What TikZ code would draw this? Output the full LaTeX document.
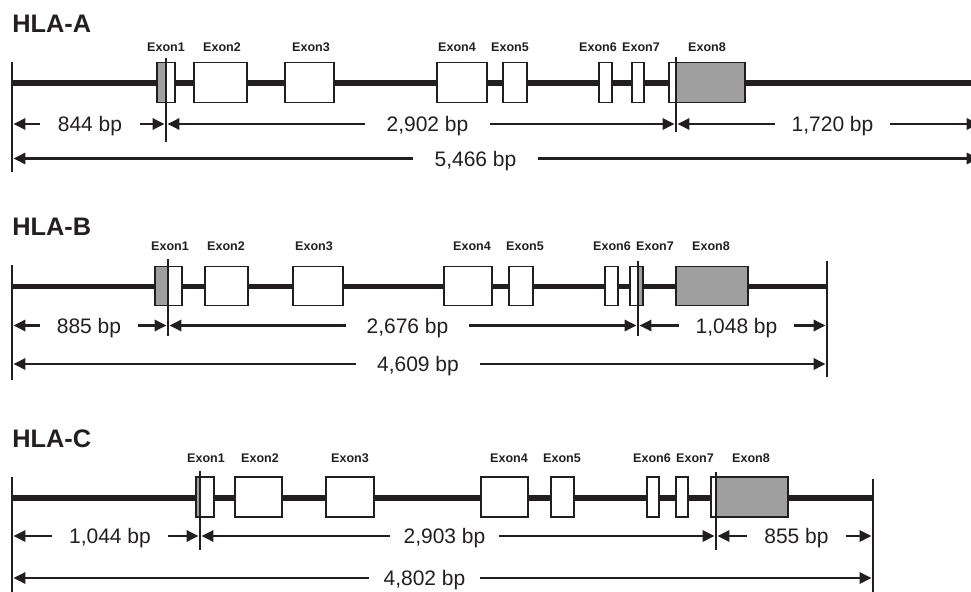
\documentclass[tikz,border=0pt]{standalone}
\usepackage{fontspec}
\setmainfont{Liberation Sans}
\usetikzlibrary{arrows.meta}
\definecolor{ink}{RGB}{35,31,32}
\definecolor{exgray}{RGB}{158,159,158}
\tikzset{
 gene/.style={draw=ink, line width=4.1pt},
 bar/.style={draw=ink, line width=2.2pt},
 exonbox/.style={draw=ink, line width=0.95pt},
 dim/.style={draw=ink, line width=1.7pt, -{Triangle[length=9pt,width=8.5pt]}, shorten >=1.1pt},
 numlab/.style={font=\fontsize{15.75}{18}\selectfont, text=ink, inner sep=0pt, text height=11.3pt, text depth=0pt, minimum width=#1*0.75pt},
 exlab/.style={font=\bfseries\fontsize{9.4}{10}\selectfont, text=ink, inner sep=0pt, anchor=base},
 title/.style={font=\bfseries\fontsize{19}{20}\selectfont, text=ink, inner sep=0pt, anchor=base west},
}
% white exon box: x1 x2 ytop ybot
\newcommand\wex[4]{\filldraw[exonbox,fill=white] (#1,#3) rectangle (#2,#4);}
% gray exon box
\newcommand\gex[4]{\filldraw[exonbox,fill=exgray] (#1,#3) rectangle (#2,#4);}
% split exon: x1 x2 g1 g2 ytop ybot
\newcommand\sex[6]{\fill[white] (#1,#5) rectangle (#2,#6); \fill[exgray] (#3,#5) rectangle (#4,#6); \draw[exonbox] (#1,#5) rectangle (#2,#6);}
\begin{document}
\begin{tikzpicture}[x=0.75pt,y=-0.75pt]
\useasboundingbox (0,0) rectangle (971,592);
\clip (0,0) rectangle (971,592);

% ================= HLA-A =================
\node[title] (tA) at (12,33) {HLA-A};
\coordinate (Ls) at (12,83); \coordinate (Le) at (980,83);
\draw[gene] (Ls) -- (Le);
\sex{157}{175}{157}{166}{62.5}{102.5}
\wex{194}{247}{62.5}{102.5}
\wex{285}{334}{62.5}{102.5}
\wex{437}{487}{62.5}{102.5}
\wex{503}{527}{62.5}{102.5}
\wex{599}{612}{62.5}{102.5}
\wex{632}{644}{62.5}{102.5}
\sex{669}{745}{676}{745}{62.5}{102.5}
\node[exlab] (xA1) at (166,52) {Exon1};
\node[exlab] (xA2) at (222,52) {Exon2};
\node[exlab] (xA3) at (311,52) {Exon3};
\node[exlab] (xA4) at (457,52) {Exon4};
\node[exlab] (xA5) at (510,52) {Exon5};
\node[exlab] (xA6) at (598,52) {Exon6};
\node[exlab] (xA7) at (641,52) {Exon7};
\node[exlab] (xA8) at (707,52) {Exon8};
\coordinate (A0t) at (12,62);  \coordinate (A0b) at (12,172);
\coordinate (A1t) at (166,58); \coordinate (A1b) at (166,142);
\coordinate (A2t) at (676,57); \coordinate (A2b) at (676,132);
\coordinate (AE) at (980,124);
\draw[bar] (A0t) -- (A0b);
\draw[bar] (A1t) -- (A1b);
\draw[bar] (A2t) -- (A2b);
\node[numlab=100] (nA1) at (90,124) {844 bp};
\node[numlab=125] (nA2) at (427.5,124) {2,902 bp};
\node[numlab=115] (nA3) at (832.5,124) {1,720 bp};
\node[numlab=125] (nA4) at (475.5,158.5) {5,466 bp};
\draw[dim] (nA1.west) -- (A0t |- nA1);
\draw[dim] (nA1.east) -- (A1t |- nA1);
\draw[dim] (nA2.west) -- (A1t |- nA2);
\draw[dim] (nA2.east) -- (A2t |- nA2);
\draw[dim] (nA3.west) -- (A2t |- nA3);
\draw[dim] (nA3.east) -- (AE |- nA3);
\draw[dim] (nA4.west) -- (A0t |- nA4);
\draw[dim] (nA4.east) -- (AE |- nA4);

% ================= HLA-B =================
\node[title] (tB) at (12,235) {HLA-B};
\coordinate (Bs) at (12,286.5); \coordinate (Be) at (827,286.5);
\draw[gene] (Bs) -- (Be);
\sex{155}{182}{155}{168}{266.5}{305.5}
\wex{205}{248}{266.5}{305.5}
\wex{293}{343}{266.5}{305.5}
\wex{444}{492}{266.5}{305.5}
\wex{509}{533}{266.5}{305.5}
\wex{605}{618}{266.5}{305.5}
\sex{630}{643}{638}{643}{266.5}{305.5}
\gex{676}{748}{266.5}{305.5}
\node[exlab] (xB1) at (170,250) {Exon1};
\node[exlab] (xB2) at (226,250) {Exon2};
\node[exlab] (xB3) at (314,250) {Exon3};
\node[exlab] (xB4) at (472,250) {Exon4};
\node[exlab] (xB5) at (525,250) {Exon5};
\node[exlab] (xB6) at (612,250) {Exon6};
\node[exlab] (xB7) at (655,250) {Exon7};
\node[exlab] (xB8) at (711,250) {Exon8};
\coordinate (B0t) at (12,265);  \coordinate (B0b) at (12,380);
\coordinate (B1t) at (168,259); \coordinate (B1b) at (168,336);
\coordinate (B2t) at (638,261); \coordinate (B2b) at (638,336);
\coordinate (B3t) at (827,261); \coordinate (B3b) at (827,377);
\draw[bar] (B0t) -- (B0b);
\draw[bar] (B1t) -- (B1b);
\draw[bar] (B2t) -- (B2b);
\draw[bar] (B3t) -- (B3b);
\node[numlab=98]  (nB1) at (89,325.5) {885 bp};
\node[numlab=123] (nB2) at (407.5,325.5) {2,676 bp};
\node[numlab=115] (nB3) at (736.5,325.5) {1,048 bp};
\node[numlab=124] (nB4) at (418,364) {4,609 bp};
\draw[dim] (nB1.west) -- (B0t |- nB1);
\draw[dim] (nB1.east) -- (B1t |- nB1);
\draw[dim] (nB2.west) -- (B1t |- nB2);
\draw[dim] (nB2.east) -- (B2t |- nB2);
\draw[dim] (nB3.west) -- (B2t |- nB3);
\draw[dim] (nB3.east) -- (B3t |- nB3);
\draw[dim] (nB4.west) -- (B0t |- nB4);
\draw[dim] (nB4.east) -- (B3t |- nB4);

% ================= HLA-C =================
\node[title] (tC) at (12,447) {HLA-C};
\coordinate (Cs) at (12,498); \coordinate (Ce) at (873,498);
\draw[gene] (Cs) -- (Ce);
\sex{196}{214}{196}{200}{477}{517}
\wex{235}{282}{477}{517}
\wex{326}{374}{477}{517}
\wex{481}{528}{477}{517}
\wex{551}{574}{477}{517}
\wex{647}{659}{477}{517}
\wex{676}{688}{477}{517}
\sex{711}{788}{716}{788}{477}{517}
\node[exlab] (xC1) at (206,462) {Exon1};
\node[exlab] (xC2) at (260,462) {Exon2};
\node[exlab] (xC3) at (350,462) {Exon3};
\node[exlab] (xC4) at (509,462) {Exon4};
\node[exlab] (xC5) at (562,462) {Exon5};
\node[exlab] (xC6) at (652,462) {Exon6};
\node[exlab] (xC7) at (695,462) {Exon7};
\node[exlab] (xC8) at (751,462) {Exon8};
\coordinate (C0t) at (12,477);  \coordinate (C0b) at (12,592);
\coordinate (C1t) at (200,471); \coordinate (C1b) at (200,550);
\coordinate (C2t) at (716,472); \coordinate (C2b) at (716,550);
\coordinate (C3t) at (873,479); \coordinate (C3b) at (873,592);
\draw[bar] (C0t) -- (C0b);
\draw[bar] (C1t) -- (C1b);
\draw[bar] (C2t) -- (C2b);
\draw[bar] (C3t) -- (C3b);
\node[numlab=116] (nC1) at (110,536) {1,044 bp};
\node[numlab=109] (nC2) at (444.5,536) {2,903 bp};
\node[numlab=99]  (nC3) at (796.5,536) {855 bp};
\node[numlab=111] (nC4) at (424.5,578) {4,802 bp};
\draw[dim] (nC1.west) -- (C0t |- nC1);
\draw[dim] (nC1.east) -- (C1t |- nC1);
\draw[dim] (nC2.west) -- (C1t |- nC2);
\draw[dim] (nC2.east) -- (C2t |- nC2);
\draw[dim] (nC3.west) -- (C2t |- nC3);
\draw[dim] (nC3.east) -- (C3t |- nC3);
\draw[dim] (nC4.west) -- (C0t |- nC4);
\draw[dim] (nC4.east) -- (C3t |- nC4);
\end{tikzpicture}
\end{document}
